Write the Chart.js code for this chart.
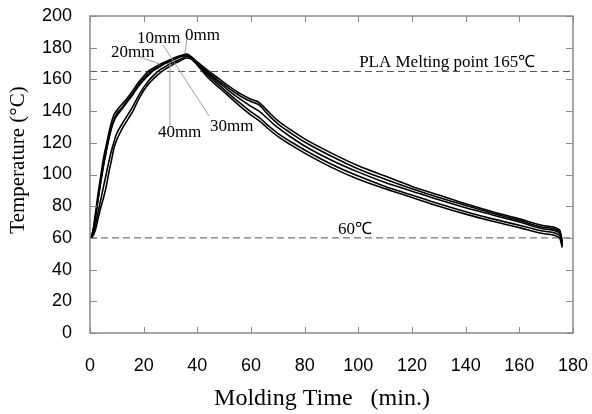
<!DOCTYPE html>
<html lang="en">
<head>
<meta charset="UTF-8" />
<title>Molding temperature</title>
<script src="https://cdn.jsdelivr.net/npm/chart.js"></script>
<style>
  html, body { margin: 0; padding: 0; background: #fff; }
  #wrap { width: 592px; height: 414px; }
</style>
</head>
<body>
<div id="wrap"><canvas id="chartTemp" width="592" height="414"></canvas></div>

<script>
// molding time (min.)
const minutes = [0,1,2,3,4,5,6,7,8,9,10,12,14,16,18,20,22,24,26,28,30,32,34,36,38,40,44,48,52,56,60,63,66,70,75,80,90,100,110,120,130,140,150,160,170,175,176];

// temperature (°C) at each depth
const temp0mm  = [60,63,73,85,96,106,115,123,130,135,138.5,142.5,147,151.5,156.5,160.5,164,166.5,168.5,170.5,172,173.5,175,176,174,171,165.5,160.5,155.5,151,147.5,145.5,140.5,134,128,122.5,113.5,105.5,99,92.5,87,81.5,76.5,72,67.5,65,58];
const temp10mm = [60,64,75,88,99,110,118,126,133,138,140.5,144.5,148.5,153,158,162,165.5,167.5,169.5,171,172.5,174,175,175.5,173.5,170,164.5,159,154,149.5,146,144,138.5,132,126,120.5,111.5,103.5,97,91,85.5,80.5,75.5,71,66.5,64,57];
const temp20mm = [60,63,72,84,95,105,114,122,129,134,137,141.5,146,150.5,155.5,159.5,163,166,168,170,171.5,173,174.5,175,173,169.5,163.5,158,152.5,147.5,143,140,135.5,129.5,123.5,118,109,101.5,95,89.5,84,79,74.5,70,65.5,63,56];
const temp30mm = [60,62,68,76,84,92,100,108,115,121,126,132,137.5,143,149.5,155,159.5,163,166,168,170,171.5,173,174.5,173,169.5,162.5,156.5,150.5,145,139.5,136,131.5,126,120.5,115.5,106.5,99,92.5,87,81.5,76.5,72,68,64,61.5,55];
const temp40mm = [60,61,65,72,79,85,92,101,109,117,122,129,134.5,140,147,153,157.5,161,164,166.5,168.5,170.5,172,173.5,172.5,169,161,155,149,143,137.5,134,129.5,124,118.5,113.5,104.5,97,91,85.5,80,75,70.5,66.5,62.5,60,54];

const seriesNames = ['0mm', '10mm', '20mm', '30mm', '40mm'];
const seriesValues = [temp0mm, temp10mm, temp20mm, temp30mm, temp40mm];

const meltingPoint = 165;   // PLA melting point
const moldTemp = 60;
const xRange = [0, 180];

// text annotations: [text, x, y] in data units, leader lines [x1, y1, x2, y2]
const notes = [
  ['0mm', 35.4, 184.9],
  ['10mm', 17.5, 183],
  ['20mm', 7.8, 174],
  ['40mm', 25.3, 123.7],
  ['30mm', 44.7, 127.4],
  ['PLA Melting point 165\u2103', 100.3, 167.8],
  ['60\u2103', 92.4, 62.5]
];
const leaders = [
  [36.2, 186.8, 35.4, 176.7],
  [18.6, 174.1, 26.1, 169.7],
  [27.2, 181.7, 44.4, 136.9],
  [29.8, 170.3, 29.8, 130.6]
];

const toPoints = vals => vals.map((v, i) => ({ x: minutes[i], y: v }));

const datasets = seriesValues.map((vals, i) => ({
  label: seriesNames[i],
  data: toPoints(vals),
  borderColor: '#000',
  borderWidth: 1.6,
  pointRadius: 0,
  cubicInterpolationMode: 'monotone',
  order: 1
}));
[meltingPoint, moldTemp].forEach(v => {
  datasets.push({
    label: 'ref' + v,
    data: xRange.map(x => ({ x: x, y: v })),
    borderColor: '#555',
    borderWidth: 1,
    borderDash: [7, 4],
    pointRadius: 0,
    order: 2
  });
});

const framePlugin = {
  id: 'frame',
  afterDraw(chart) {
    const ctx = chart.ctx;
    const a = chart.chartArea;
    const sx = chart.scales.x, sy = chart.scales.y;
    ctx.save();
    ctx.strokeStyle = '#8a8a8a';
    ctx.lineWidth = 1.5;
    ctx.strokeRect(a.left, a.top, a.right - a.left, a.bottom - a.top);
    ctx.beginPath();
    sy.ticks.forEach(t => {
      const y = Math.round(sy.getPixelForValue(t.value)) + 0.5;
      ctx.moveTo(a.left, y); ctx.lineTo(a.left + 7, y);
      ctx.moveTo(a.right, y); ctx.lineTo(a.right - 7, y);
    });
    sx.ticks.forEach(t => {
      const x = Math.round(sx.getPixelForValue(t.value)) + 0.5;
      ctx.moveTo(x, a.bottom); ctx.lineTo(x, a.bottom - 6);
      ctx.moveTo(x, a.top); ctx.lineTo(x, a.top + 6);
    });
    ctx.lineWidth = 1;
    ctx.stroke();

    // leader lines
    ctx.strokeStyle = '#a0a0a0';
    ctx.lineWidth = 1;
    ctx.beginPath();
    leaders.forEach(l => {
      ctx.moveTo(sx.getPixelForValue(l[0]), sy.getPixelForValue(l[1]));
      ctx.lineTo(sx.getPixelForValue(l[2]), sy.getPixelForValue(l[3]));
    });
    ctx.stroke();

    // notes
    ctx.fillStyle = '#000';
    ctx.textBaseline = 'alphabetic';
    ctx.textAlign = 'left';
    ctx.font = '17px "Liberation Serif", serif';
    notes.forEach(n => {
      ctx.fillText(n[0], sx.getPixelForValue(n[1]), sy.getPixelForValue(n[2]));
    });

    // axis titles
    ctx.font = '24px "Liberation Serif", serif';
    ctx.textAlign = 'center';
    ctx.fillText('Molding Time\u2002 (min.)', 322, 405);
    ctx.translate(24, 160);
    ctx.rotate(-Math.PI / 2);
    ctx.font = '21px "Liberation Serif", serif';
    ctx.fillText('Temperature (\u00b0C)', 0, 0);
    ctx.restore();
  }
};

new Chart(document.getElementById('chartTemp').getContext('2d'), {
  type: 'line',
  data: { datasets: datasets },
  options: {
    responsive: false,
    animation: false,
    layout: { padding: { left: 0, right: 19, top: 16, bottom: 0 } },
    plugins: { legend: { display: false }, tooltip: { enabled: false } },
    scales: {
      x: {
        type: 'linear',
        min: xRange[0],
        max: xRange[1],
        grid: { display: false, drawTicks: false },
        border: { display: false },
        ticks: { stepSize: 20, color: '#000', padding: 22, font: { family: '"Liberation Sans", Arial, sans-serif', size: 18 }, maxRotation: 0 },
        afterFit(scale) { scale.height = 81; scale.paddingLeft = 0; scale.paddingRight = 0; }
      },
      y: {
        min: 0,
        max: 200,
        grid: { display: false, drawTicks: false },
        border: { display: false },
        ticks: { stepSize: 20, color: '#000', padding: 18, font: { family: '"Liberation Sans", Arial, sans-serif', size: 18 } },
        afterFit(scale) { scale.width = 90; scale.paddingTop = 0; scale.paddingBottom = 0; }
      }
    }
  },
  plugins: [framePlugin]
});
</script>
</body>
</html>
